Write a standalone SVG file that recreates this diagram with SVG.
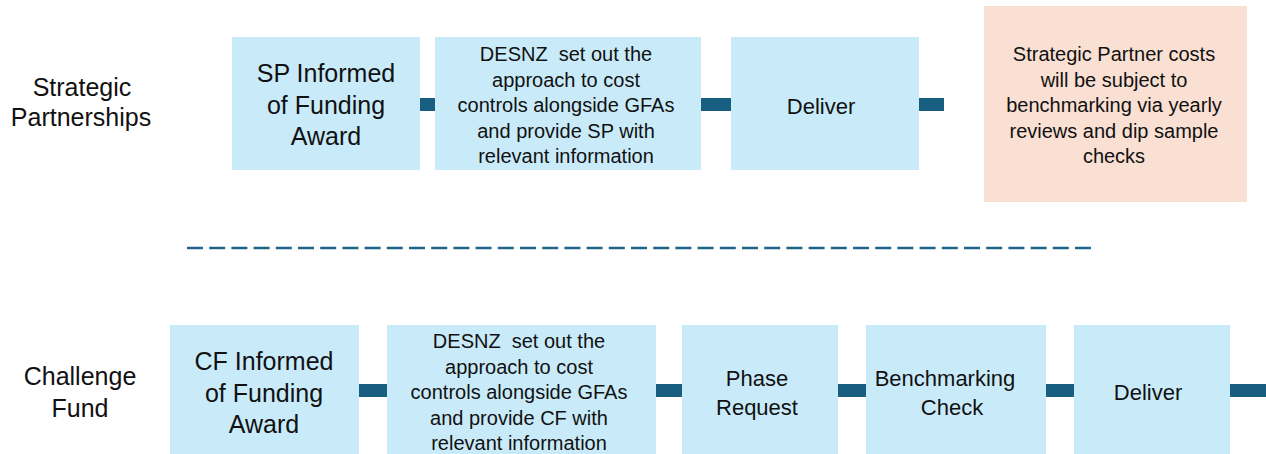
<svg xmlns="http://www.w3.org/2000/svg" width="1266" height="454" viewBox="0 0 1266 454">
  <style>
    text { font-family: "Liberation Sans", Arial, sans-serif; fill: #111; text-anchor: middle; }
    .big { font-size: 25px; }
    .mid { font-size: 20px; }
    .med { font-size: 22px; }
    .box { fill: #c9ebf9; }
    .note { fill: #f9e0d3; }
    .conn { fill: #175e80; }
  </style>
  <rect width="1266" height="454" fill="#ffffff"/>

  <g id="label-strategic">
    <text class="big" x="82" y="96">Strategic</text>
    <text class="big" x="81" y="126">Partnerships</text>
  </g>
  <g id="label-challenge">
    <text class="big" x="80" y="385">Challenge</text>
    <text class="big" x="80" y="417">Fund</text>
  </g>

  <g id="connectors">
    <rect class="conn" x="419" y="98" width="17" height="13"/>
    <rect class="conn" x="700" y="98" width="32" height="13"/>
    <rect class="conn" x="918" y="98" width="26" height="13"/>
    <rect class="conn" x="358" y="384" width="30" height="13"/>
    <rect class="conn" x="655" y="384" width="28" height="13"/>
    <rect class="conn" x="837" y="384" width="30" height="13"/>
    <rect class="conn" x="1045" y="384" width="30" height="13"/>
    <rect class="conn" x="1229" y="384" width="37" height="13"/>
  </g>

  <g id="divider">
    <line x1="187" y1="248" x2="1091" y2="248" stroke="#1f6388" stroke-width="2.5" stroke-dasharray="16 6.2"/>
  </g>

  <g id="sp-informed">
    <rect class="box" x="232" y="37" width="188" height="133"/>
    <text class="big" x="326" y="82">SP Informed</text>
    <text class="big" x="326" y="113.5">of Funding</text>
    <text class="big" x="326" y="145">Award</text>
  </g>
  <g id="sp-desnz">
    <rect class="box" x="435" y="37" width="266" height="133"/>
    <text class="mid" x="566" y="61" xml:space="preserve">DESNZ  set out the</text>
    <text class="mid" x="566" y="86.5">approach to cost</text>
    <text class="mid" x="566" y="112">controls alongside GFAs</text>
    <text class="mid" x="566" y="137.5">and provide SP with</text>
    <text class="mid" x="566" y="163">relevant information</text>
  </g>
  <g id="sp-deliver">
    <rect class="box" x="731" y="37" width="188" height="133"/>
    <text class="med" x="821" y="114">Deliver</text>
  </g>
  <g id="sp-note">
    <rect class="note" x="984" y="6" width="263" height="196"/>
    <text class="mid" x="1114" y="61">Strategic Partner costs</text>
    <text class="mid" x="1114" y="86.5">will be subject to</text>
    <text class="mid" x="1114" y="112">benchmarking via yearly</text>
    <text class="mid" x="1114" y="137.5">reviews and dip sample</text>
    <text class="mid" x="1114" y="163">checks</text>
  </g>

  <g id="cf-informed">
    <rect class="box" x="170" y="325" width="189" height="129"/>
    <text class="big" x="264" y="370">CF Informed</text>
    <text class="big" x="264" y="401.5">of Funding</text>
    <text class="big" x="264" y="433">Award</text>
  </g>
  <g id="cf-desnz">
    <rect class="box" x="387" y="325" width="269" height="129"/>
    <text class="mid" x="519" y="348" xml:space="preserve">DESNZ  set out the</text>
    <text class="mid" x="519" y="373.6">approach to cost</text>
    <text class="mid" x="519" y="399.2">controls alongside GFAs</text>
    <text class="mid" x="519" y="424.8">and provide CF with</text>
    <text class="mid" x="519" y="450.4">relevant information</text>
  </g>
  <g id="cf-phase">
    <rect class="box" x="682" y="325" width="156" height="129"/>
    <text class="med" x="757" y="385.7">Phase</text>
    <text class="med" x="757" y="415">Request</text>
  </g>
  <g id="cf-benchmark">
    <rect class="box" x="866" y="325" width="180" height="129"/>
    <text class="med" x="945" y="385.7">Benchmarking</text>
    <text class="med" x="952" y="415">Check</text>
  </g>
  <g id="cf-deliver">
    <rect class="box" x="1074" y="325" width="156" height="129"/>
    <text class="med" x="1148" y="400">Deliver</text>
  </g>
</svg>
